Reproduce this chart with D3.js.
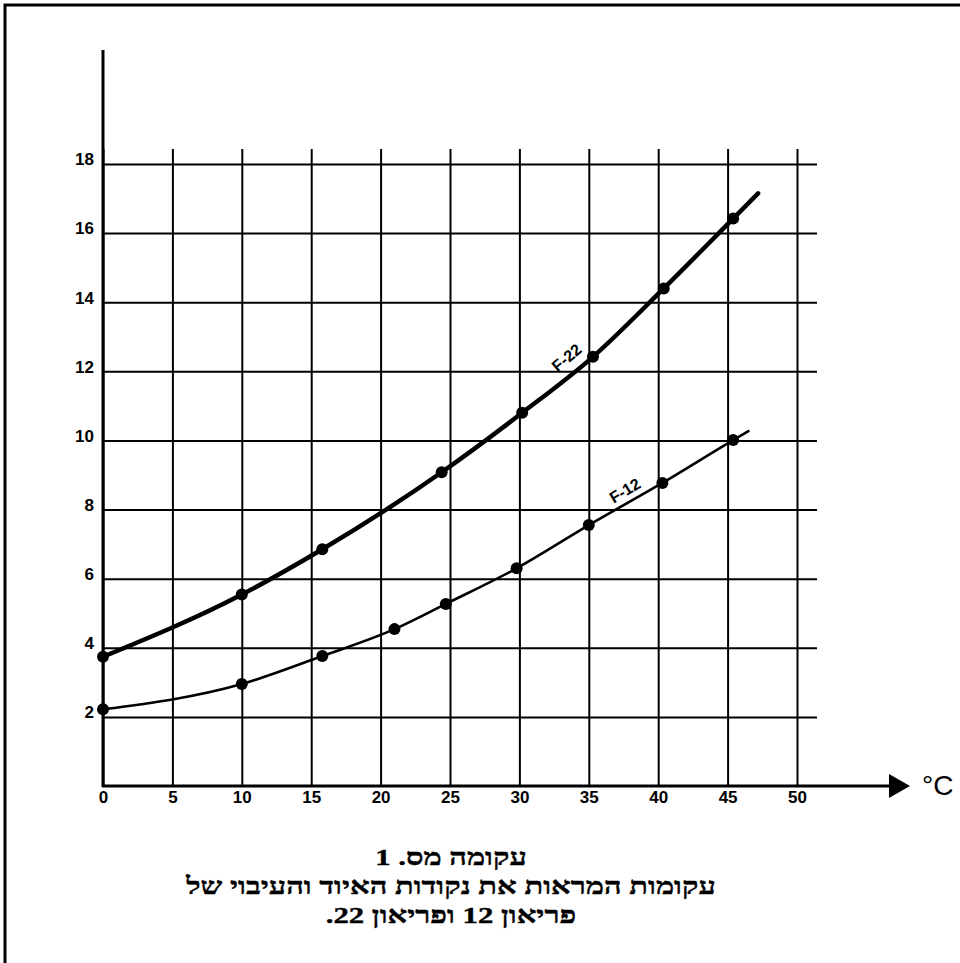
<!DOCTYPE html>
<html>
<head>
<meta charset="utf-8">
<script src="https://cdn.jsdelivr.net/npm/d3@7"></script>
<style>
  body { margin: 0; background: #fff; }
  svg { display: block; }
  .tick text { font-family: "Liberation Sans", Arial, sans-serif; font-weight: bold; font-size: 17px; fill: #000; }
</style>
</head>
<body>
<div id="chart"></div>
<script>
// values (temperature in °C, pressure)
const f22Temps = [0, 10, 15.8, 24.4, 30.2, 35.3, 40.4, 45.4];
const f22Values = [3.74, 5.54, 6.85, 9.08, 10.8, 12.42, 14.4, 16.42];
const f22Tail = [47.2, 17.15]; // curve runs a bit past the last point

const f12Temps = [0, 10, 15.8, 21, 24.7, 29.8, 35, 40.3, 45.4];
const f12Values = [2.22, 2.95, 3.76, 4.54, 5.27, 6.3, 7.55, 8.77, 10.01];
const f12Tail = [46.5, 10.27];

const xTicks = [0, 5, 10, 15, 20, 25, 30, 35, 40, 45, 50];
const yTicks = [2, 4, 6, 8, 10, 12, 14, 16, 18];

const seriesNames = ["F-22", "F-12"];
const unitLabel = "°C";
const captionLines = [
  "עקומה מס. 1",
  "עקומות המראות את נקודות האיוד והעיבוי של",
  "פריאון 12 ופריאון 22."
];

document.addEventListener("DOMContentLoaded", function () {
  const width = 960;
  const height = 963;

  const svg = d3
    .select("#chart")
    .append("svg")
    .attr("width", width)
    .attr("height", height);

  // page frame (cut off at right and bottom like the scan)
  svg
    .append("path")
    .attr("d", "M5," + height + " V5 H" + width)
    .attr("fill", "none")
    .attr("stroke", "#000")
    .attr("stroke-width", 3);

  const x = d3.scaleLinear().domain([0, 50]).range([103, 797]);
  const y = d3.scaleLinear().domain([0, 18]).range([786, 164]);

  const gridRight = 817;
  const gridTop = 149;

  // horizontal grid + y labels
  const yAxis = svg
    .append("g")
    .attr("transform", "translate(" + x(0) + ",0)")
    .call(
      d3
        .axisLeft(y)
        .tickValues(yTicks)
        .tickSize(-(gridRight - x(0)))
        .tickPadding(9)
        .tickFormat(d3.format("d"))
    );
  yAxis.select(".domain").remove();
  yAxis.selectAll(".tick line").attr("stroke", "#000").attr("stroke-width", 2);
  yAxis.selectAll(".tick text").attr("dy", "0.05em");

  // vertical grid + x labels
  const xAxis = svg
    .append("g")
    .attr("transform", "translate(0," + y(0) + ")")
    .call(
      d3
        .axisBottom(x)
        .tickValues(xTicks)
        .tickSize(-(y(0) - gridTop))
        .tickPadding(5)
        .tickFormat(d3.format("d"))
    );
  xAxis.select(".domain").remove();
  xAxis.selectAll(".tick line").attr("stroke", "#000").attr("stroke-width", 2);

  // main axes
  svg
    .append("line")
    .attr("x1", x(0))
    .attr("x2", x(0))
    .attr("y1", 50)
    .attr("y2", y(0) + 1)
    .attr("stroke", "#000")
    .attr("stroke-width", 3);

  svg
    .append("line")
    .attr("x1", x(0) - 1)
    .attr("x2", 895)
    .attr("y1", y(0))
    .attr("y2", y(0))
    .attr("stroke", "#000")
    .attr("stroke-width", 3);

  svg
    .append("path")
    .attr("d", "M889," + (y(0) - 12) + " L910," + y(0) + " L889," + (y(0) + 12) + " Z")
    .attr("fill", "#000");

  svg
    .append("text")
    .attr("x", 922)
    .attr("y", 795)
    .attr("font-family", "Liberation Sans, Arial, sans-serif")
    .attr("font-size", 28)
    .text(unitLabel);

  // curves
  const line = d3
    .line()
    .x((d) => x(d[0]))
    .y((d) => y(d[1]))
    .curve(d3.curveMonotoneX);

  const f22Points = f22Temps.map((t, i) => [t, f22Values[i]]);
  const f12Points = f12Temps.map((t, i) => [t, f12Values[i]]);

  const series = [
    { name: seriesNames[0], points: f22Points, tail: f22Tail, width: 4.5 },
    { name: seriesNames[1], points: f12Points, tail: f12Tail, width: 2.6 },
  ];

  series.forEach(function (s) {
    svg
      .append("path")
      .attr("d", line(s.points.concat([s.tail])))
      .attr("fill", "none")
      .attr("stroke", "#000")
      .attr("stroke-width", s.width)
      .attr("stroke-linecap", "round");

    svg
      .append("g")
      .selectAll("circle")
      .data(s.points)
      .join("circle")
      .attr("cx", (d) => x(d[0]))
      .attr("cy", (d) => y(d[1]))
      .attr("r", 6)
      .attr("fill", "#000");
  });

  // curve labels, written along the lines
  const labelSpots = [
    { at: [33.4, 12.4], angle: -40 },
    { at: [37.6, 8.55], angle: -31 },
  ];
  series.forEach(function (s, i) {
    const spot = labelSpots[i];
    svg
      .append("text")
      .attr(
        "transform",
        "translate(" + x(spot.at[0]) + "," + y(spot.at[1]) + ") rotate(" + spot.angle + ")"
      )
      .attr("text-anchor", "middle")
      .attr("dy", "0.35em")
      .attr("font-family", "Liberation Sans, Arial, sans-serif")
      .attr("font-weight", "bold")
      .attr("font-size", 16)
      .text(s.name);
  });

  // Hebrew caption, stretched a little to get the wide print of the scan
  svg
    .append("g")
    .selectAll("text")
    .data(captionLines)
    .join("text")
    .attr("transform", (d, i) => "translate(451," + (865 + i * 29) + ") scale(1.28,1)")
    .attr("text-anchor", "middle")
    .style("direction", "rtl")
    .attr("font-family", "Liberation Serif, DejaVu Serif, serif")
    .attr("font-weight", "bold")
    .attr("font-size", 24)
    .attr("stroke", "#000")
    .attr("stroke-width", 0.4)
    .text((d) => d);
});
</script>
</body>
</html>
